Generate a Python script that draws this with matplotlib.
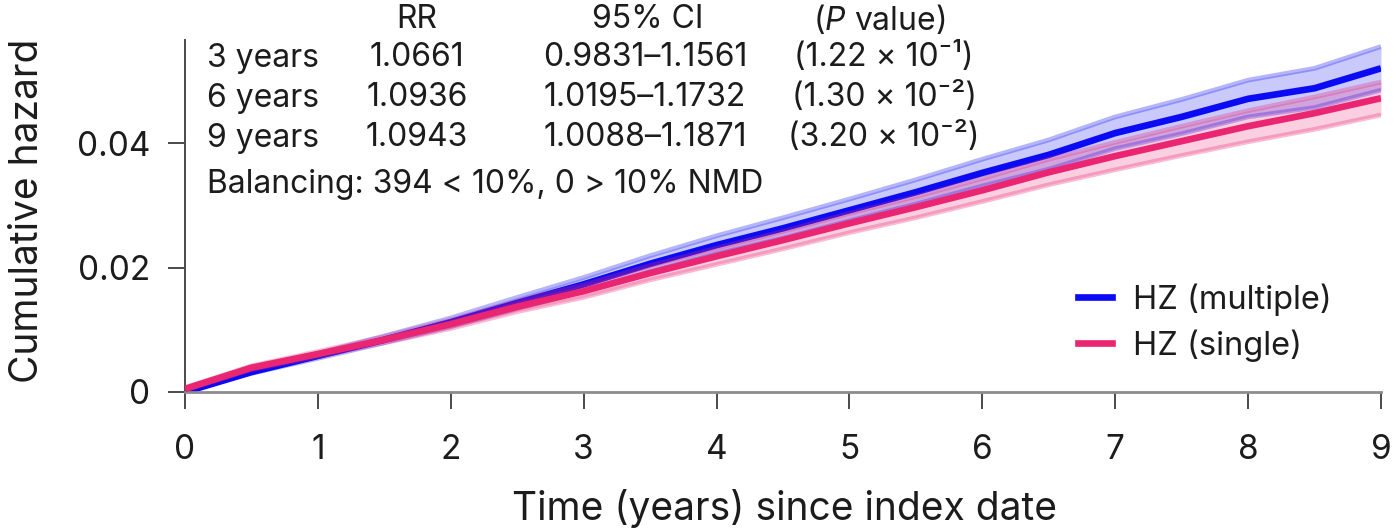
import matplotlib
matplotlib.use("Agg")
import matplotlib.pyplot as plt
from matplotlib.lines import Line2D

plt.rcParams['font.family'] = ['Inter', 'DejaVu Sans']
plt.rcParams['mathtext.fontset'] = 'custom'
plt.rcParams['mathtext.rm'] = 'Inter'
plt.rcParams['mathtext.it'] = 'Inter:italic'

# ---------------- data ----------------
years = [0, 0.5, 1, 1.5, 2, 2.5, 3, 3.5, 4, 4.5, 5, 5.5, 6, 6.5, 7, 7.5, 8, 8.5, 9]

hz_multiple = [0.0000, 0.0032, 0.0058, 0.0084, 0.0112, 0.0143, 0.0173, 0.0206, 0.0236, 0.0263,
               0.0292, 0.0321, 0.0352, 0.0381, 0.0416, 0.0442, 0.0471, 0.0488, 0.0520]
hz_multiple_lo = [0.0000, 0.0030, 0.0054, 0.0079, 0.0105, 0.0134, 0.0162, 0.0193, 0.0222, 0.0247,
                  0.0275, 0.0302, 0.0331, 0.0358, 0.0391, 0.0415, 0.0442, 0.0457, 0.0485]
hz_multiple_hi = [0.0000, 0.0035, 0.0062, 0.0090, 0.0119, 0.0152, 0.0184, 0.0219, 0.0251, 0.0280,
                  0.0310, 0.0341, 0.0374, 0.0405, 0.0442, 0.0470, 0.0501, 0.0520, 0.0555]

hz_single = [0.0005, 0.0039, 0.0061, 0.0084, 0.0109, 0.0137, 0.0162, 0.0191, 0.0218, 0.0244,
             0.0271, 0.0297, 0.0324, 0.0353, 0.0379, 0.0403, 0.0427, 0.0448, 0.0472]
hz_single_lo = [0.0003, 0.0036, 0.0057, 0.0079, 0.0102, 0.0129, 0.0152, 0.0180, 0.0205, 0.0230,
                0.0256, 0.0280, 0.0306, 0.0333, 0.0357, 0.0380, 0.0402, 0.0422, 0.0445]
hz_single_hi = [0.0007, 0.0042, 0.0065, 0.0089, 0.0116, 0.0146, 0.0172, 0.0203, 0.0231, 0.0258,
                0.0287, 0.0314, 0.0343, 0.0374, 0.0401, 0.0427, 0.0452, 0.0474, 0.0498]

series_labels = ["HZ (multiple)", "HZ (single)"]

table_header = ["RR", "95% CI", r"($\it{P}$ value)"]
table_rows = ["3 years", "6 years", "9 years"]
table_rr = ["1.0661", "1.0936", "1.0943"]
table_ci = ["0.9831\u20131.1561", "1.0195\u20131.1732", "1.0088\u20131.1871"]
table_p = ["(1.22 \u00d7 10\u207b\u00b9)", "(1.30 \u00d7 10\u207b\u00b2)", "(3.20 \u00d7 10\u207b\u00b2)"]
balancing = "Balancing: 394 < 10%, 0 > 10% NMD"

x_ticks = list(range(0, 10))
y_ticks = [0, 0.02, 0.04]
y_ticklabels = ["0", "0.02", "0.04"]

# ---------------- figure ----------------
W, H = 1394, 529
fig = plt.figure(figsize=(W / 100, H / 100), dpi=100)
ax = fig.add_axes([185 / W, 137 / H, (1381 - 185) / W, (392 - 40) / H])

BLUE = '#0a0af5'
PINK = '#ea2672'
TXT = '#1c1c1c'

def draw(x, y, lo, hi, color, z):
    ax.fill_between(x, lo, hi, color=color, alpha=0.22, lw=0, zorder=z)
    ax.plot(x, lo, color=color, alpha=0.3, lw=3.4, zorder=z + 0.1, solid_capstyle='butt')
    ax.plot(x, hi, color=color, alpha=0.3, lw=3.4, zorder=z + 0.1, solid_capstyle='butt')
    ax.plot(x, y, color=color, lw=4.8, zorder=z + 0.2, solid_capstyle='butt')

draw(years, hz_multiple, hz_multiple_lo, hz_multiple_hi, BLUE, 2)
draw(years, hz_single, hz_single_lo, hz_single_hi, PINK, 3)

ax.set_xlim(0, 9)
ax.set_ylim(0, 0.05655)
ax.set_xticks(x_ticks)
ax.set_yticks(y_ticks)
ax.set_yticklabels(y_ticklabels)
for s in ['top', 'right']:
    ax.spines[s].set_visible(False)
ax.spines['left'].set_color('#4a4a4a')
ax.spines['left'].set_linewidth(1.4)
ax.spines['bottom'].set_color('#8c8c8c')
ax.spines['bottom'].set_linewidth(2.0)
ax.tick_params(axis='both', direction='out', length=12, width=1.4, color='#4a4a4a',
               labelsize=24, labelcolor=TXT)
ax.tick_params(axis='y', pad=13)
ax.tick_params(axis='x', pad=18)
ax.patch.set_alpha(0)

fig.text(28 / W, 1 - 211 / H, "Cumulative hazard", rotation=90, ha='center', va='center',
         fontsize=28, color=TXT)
fig.text(785 / W, 1 - 508 / H, "Time (years) since index date", ha='center', va='center',
         fontsize=28, color=TXT)

# table annotation
fs = 23
col_x = [417, 648, 879]
for j in range(3):
    fig.text(col_x[j] / W, 1 - 20 / H, table_header[j], ha='center', va='center', fontsize=fs, color=TXT)
row_y = [58, 98, 138]
for i in range(3):
    yy = 1 - row_y[i] / H
    fig.text(207 / W, yy, table_rows[i], ha='left', va='center', fontsize=fs, color=TXT)
    fig.text(col_x[0] / W, yy, table_rr[i], ha='center', va='center', fontsize=fs, color=TXT)
    fig.text(645 / W, yy, table_ci[i], ha='center', va='center', fontsize=fs, color=TXT)
    fig.text(884 / W, yy, table_p[i], ha='center', va='center', fontsize=fs, color=TXT,
             family=['Inter', 'DejaVu Sans'])
fig.text(207 / W, 1 - 185 / H, balancing, ha='left', va='center', fontsize=fs, color=TXT)

handles = [Line2D([], [], color=BLUE, lw=4.8), Line2D([], [], color=PINK, lw=4.8)]
leg = fig.legend(handles, series_labels, loc='upper left', bbox_to_anchor=(1078 / W, 1 - 283 / H),
                 frameon=False, fontsize=23.5, handlelength=1.05, handletextpad=0.62,
                 labelspacing=0.42, borderpad=0, borderaxespad=0)
for t in leg.get_texts():
    t.set_color(TXT)

fig.savefig("out.png", dpi=100)
